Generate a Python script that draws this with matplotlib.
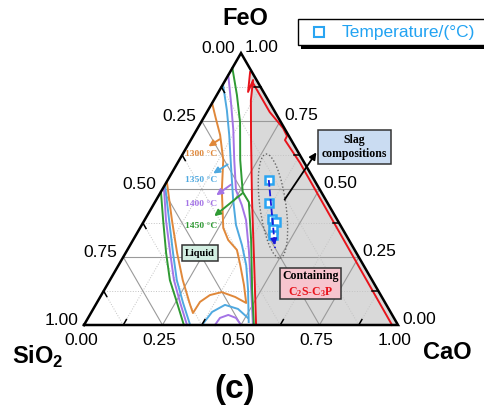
import numpy as np
import matplotlib.pyplot as plt
from matplotlib.patches import Polygon, Ellipse, Rectangle
from matplotlib.lines import Line2D

plt.rcParams['font.family'] = ['Liberation Sans', 'DejaVu Sans']
plt.rcParams['mathtext.fontset'] = 'custom'
plt.rcParams['mathtext.rm'] = 'Liberation Sans'
plt.rcParams['mathtext.bf'] = 'Liberation Sans:bold'
plt.rcParams['mathtext.sf'] = 'Liberation Serif:bold'

# compositions as (CaO, FeO) mole fractions, SiO2 is the rest
# 1300 C isotherm (orange)
iso1300_cao = [0.001, 0.087, 0.164, 0.232, 0.301, 0.325, 0.327, 0.346, 0.378, 0.430, 0.476,
               0.436, 0.387, 0.349, 0.303, 0.265, 0.191, 0.140, 0.084, 0.039, 0.0]
iso1300_feo = [0.526, 0.386, 0.265, 0.165, 0.074, 0.044, 0.085, 0.110, 0.121, 0.103, 0.081,
               0.147, 0.221, 0.276, 0.3125, 0.357, 0.496, 0.607, 0.699, 0.761, 0.816]

# 1350 C isotherm (blue), three pieces
iso1350_left_cao = [0.003, 0.078, 0.151, 0.213, 0.275, 0.338]
iso1350_left_feo = [0.511, 0.386, 0.265, 0.165, 0.081, 0.0]
iso1350_arc_cao = [0.376, 0.384, 0.412, 0.461, 0.509]
iso1350_arc_feo = [0.0, 0.048, 0.074, 0.059, 0.026]
iso1350_right_cao = [0.002, 0.060, 0.113, 0.174, 0.245, 0.300, 0.356, 0.406, 0.458, 0.519]
iso1350_right_feo = [0.882, 0.790, 0.699, 0.588, 0.460, 0.368, 0.294, 0.221, 0.129, 0.011]

# 1400 C isotherm (purple)
iso1400_left_cao = [0.005, 0.068, 0.142, 0.204, 0.266, 0.328]
iso1400_left_feo = [0.500, 0.386, 0.265, 0.165, 0.081, 0.0]
iso1400_arc_cao = [0.417, 0.420, 0.441, 0.471, 0.500]
iso1400_arc_feo = [0.0, 0.026, 0.037, 0.026, 0.0]
iso1400_right_cao = [0.0, 0.054, 0.117, 0.175, 0.236, 0.282, 0.323, 0.387, 0.468, 0.538]
iso1400_right_feo = [0.919, 0.827, 0.717, 0.607, 0.496, 0.441, 0.386, 0.276, 0.129, 0.0]

# 1450 C isotherm (green)
iso1450_left_cao = [0.0, 0.059, 0.129, 0.191, 0.256, 0.318]
iso1450_left_feo = [0.490, 0.386, 0.265, 0.165, 0.081, 0.0]
iso1450_right_cao = [0.0, 0.064, 0.124, 0.194, 0.261, 0.299, 0.376, 0.471, 0.541]
iso1450_right_feo = [0.945, 0.846, 0.746, 0.607, 0.489, 0.452, 0.3125, 0.129, 0.0]

# C2S-C3P boundaries (red)
redA_cao = [0.064, 0.094, 0.088, 0.118, 0.192, 0.305, 0.422, 0.548]
redA_feo = [0.930, 0.857, 0.901, 0.827, 0.680, 0.460, 0.239, 0.0]
redB_cao = [0.093, 0.200, 0.272, 0.299, 0.300, 0.390, 0.981]
redB_feo = [0.890, 0.783, 0.724, 0.695, 0.680, 0.596, 0.0]

# slag compositions
slag_cao = [0.322, 0.365, 0.404, 0.422, 0.426, 0.437]
slag_feo = [0.533, 0.449, 0.390, 0.379, 0.353, 0.331]
trend_end = (0.467, 0.283)

tick_vals = [0.0, 0.25, 0.5, 0.75, 1.0]
minor_vals = [0.125, 0.375, 0.625, 0.875]

S3 = np.sqrt(3) / 2


def tern(cao, feo):
    cao = np.asarray(cao, float)
    feo = np.asarray(feo, float)
    return cao + feo / 2, feo * S3


fig = plt.figure(figsize=(4.84, 4.11), dpi=100)
ax = fig.add_axes([0, 0, 1, 1])
ax.set_xlim(-84 / 314, 400 / 314)
ax.set_ylim((325 - 411) / 314, 325 / 314)
ax.axis('off')

# grey C2S-C3P field
gx, gy = tern(redA_cao[3:] + [1.0, 0.07], redA_feo[3:] + [0.0, 0.93])
gx = np.r_[tern(redA_cao[0], redA_feo[0])[0], gx]
gy = np.r_[tern(redA_cao[0], redA_feo[0])[1], gy]
ax.add_patch(Polygon(np.c_[gx, gy], closed=True, fc='#d9d9d9', ec='none', zorder=0))

# grid
for v in np.arange(0.125, 1.0, 0.125):
    major = abs(v * 4 - round(v * 4)) < 1e-9
    kw = dict(color='#9a9a9a', lw=0.8, ls='-') if major else dict(color='#c4c4c4', lw=0.7, ls=':')
    for c0, f0, c1, f1 in [(0, v, 1 - v, v), (v, 0, v, 1 - v), (1 - v, 0, 0, 1 - v)]:
        x, y = tern([c0, c1], [f0, f1])
        ax.plot(x, y, zorder=1, **kw)

# triangle frame
fx, fy = tern([0, 1, 0, 0], [0, 0, 1, 0])
ax.plot(fx, fy, color='black', lw=1.8, zorder=6, solid_joinstyle='miter')

# minor ticks
L = 0.02
for v in minor_vals:
    for c0, f0, c1, f1 in [(v, 0, v, L), (1 - v, v, 1 - v - L, v), (0, 1 - v, L, 1 - v - L)]:
        x, y = tern([c0, c1], [f0, f1])
        ax.plot(x, y, color='black', lw=1.1, zorder=6)

# tick labels
for v in tick_vals:
    ax.annotate(f'{v:.2f}', tern(v, 0), xytext=(-3, -15), textcoords='offset pixels',
                ha='center', va='center', fontsize=12.5)
    ax.annotate(f'{v:.2f}', tern(0, 1 - v), xytext=(-6, 5), textcoords='offset pixels',
                ha='right', va='center', fontsize=12.5)
    ax.annotate(f'{v:.2f}', tern(1 - v, v), xytext=(4, 6), textcoords='offset pixels',
                ha='left', va='center', fontsize=12.5)

# vertex labels
ax.text(0.513, 0.975, 'FeO', ha='center', va='center', fontsize=17, fontweight='bold')
ax.text(-0.146, -0.102, r'SiO$_\mathbf{2}$', ha='center', va='center', fontsize=17, fontweight='bold')
ax.text(1.156, -0.086, 'CaO', ha='center', va='center', fontsize=17, fontweight='bold')
ax.text(0.481, -0.207, '(c)', ha='center', va='center', fontsize=24, fontweight='bold')

c_or, c_bl, c_pu, c_gr, c_rd = '#e0883a', '#4fa9e0', '#a474e6', '#2f9a33', '#e8141c'
lw = 1.4

x, y = tern(iso1300_cao, iso1300_feo)
ax.plot(x, y, color=c_or, lw=lw, zorder=3)
for cc, ff in [(iso1350_left_cao, iso1350_left_feo), (iso1350_arc_cao, iso1350_arc_feo),
               (iso1350_right_cao, iso1350_right_feo)]:
    x, y = tern(cc, ff)
    ax.plot(x, y, color=c_bl, lw=lw, zorder=3)
for cc, ff in [(iso1400_left_cao, iso1400_left_feo), (iso1400_arc_cao, iso1400_arc_feo),
               (iso1400_right_cao, iso1400_right_feo)]:
    x, y = tern(cc, ff)
    ax.plot(x, y, color=c_pu, lw=lw, zorder=3)
for cc, ff in [(iso1450_left_cao, iso1450_left_feo), (iso1450_right_cao, iso1450_right_feo)]:
    x, y = tern(cc, ff)
    ax.plot(x, y, color=c_gr, lw=lw, zorder=3)
for cc, ff in [(redA_cao, redA_feo), (redB_cao, redB_feo)]:
    x, y = tern(cc, ff)
    ax.plot(x, y, color=c_rd, lw=lw, zorder=4)

# isotherm labels with arrows
serif = ['Liberation Serif', 'DejaVu Serif']
iso_labels = [('1300 °C', c_or, (0.439, 0.596), (0.389, 0.564), 0.545),
              ('1350 °C', c_bl, (0.465, 0.516), (0.404, 0.478), 0.462),
              ('1400 °C', c_pu, (0.475, 0.452), (0.414, 0.408), 0.385),
              ('1450 °C', c_gr, (0.510, 0.424), (0.408, 0.341), 0.315)]
for txt, col, tail, head, ty in iso_labels:
    ax.annotate('', xy=head, xytext=tail,
                arrowprops=dict(arrowstyle='-|>', color=col, lw=1.4, mutation_scale=9), zorder=5)
    ax.text(0.374, ty, txt, color=col, fontsize=6.8, fontweight='bold', family=serif,
            ha='center', va='center', zorder=7)

# Liquid label
ax.text(0.369, 0.229, 'Liquid', fontsize=7.5, fontweight='bold', family=serif, ha='center', va='center',
        bbox=dict(boxstyle='square,pad=0.3', fc='#d3efe2', ec='#333333', lw=1.1), zorder=7)

# slag composition box and arrow
ax.text(0.861, 0.567, 'Slag\ncompositions', fontsize=8.5, fontweight='bold', family=serif,
        ha='center', va='center', linespacing=1.25,
        bbox=dict(boxstyle='square,pad=0.35', fc='#cadcf2', ec='#333333', lw=1.1), zorder=7)
ax.annotate('', xy=(0.745, 0.557), xytext=(0.634, 0.392),
            arrowprops=dict(arrowstyle='-|>', color='black', lw=1.3, mutation_scale=10), zorder=7)

# containing box
ax.add_patch(Rectangle((0.624, 0.083), 0.194, 0.099, fc='#f7c5ce', ec='#333333', lw=1.1, zorder=7))
ax.text(0.721, 0.156, 'Containing', fontsize=8.5, fontweight='bold', family=serif,
        ha='center', va='center', zorder=8)
ax.text(0.721, 0.106, r'$\mathsf{C_2S}$-$\mathsf{C_3P}$', fontsize=8.5, fontweight='bold', family=serif,
        color=c_rd, ha='center', va='center', zorder=8)

# dotted ellipse around the slag data
ex, ey = tern(0.383, 0.4375)
ax.add_patch(Ellipse((ex, ey), width=0.083, height=0.334, angle=7.7, fill=False,
                     ls=(0, (1, 1.5)), ec='#666666', lw=1.0, zorder=4))

# slag points and trend
sx, sy = tern(slag_cao, slag_feo)
ax.plot(sx, sy, 's', ms=6, mfc='white', mec='#2aa5f2', mew=1.8, zorder=8,
        label='Temperature/(°C)')
tx, ty = tern(*trend_end)
ax.plot([sx[0], tx], [sy[0], ty], ls='--', color='#1a1ad8', lw=1.3, zorder=9)
ax.annotate('', xy=(tx, ty), xytext=(tx - 0.004, ty + 0.03),
            arrowprops=dict(arrowstyle='-|>', color='#1a1ad8', lw=1.3, mutation_scale=9), zorder=9)

# legend box drawn by hand (runs off the right edge like the original)
W, H = 484, 411
fig.patches.append(Rectangle((301 / W, 1 - 49 / H), 200 / W, 26 / H, transform=fig.transFigure,
                             fc='black', ec='none', zorder=1))
fig.patches.append(Rectangle((298 / W, 1 - 45 / H), 200 / W, 26 / H, transform=fig.transFigure,
                             fc='white', ec='black', lw=1.0, zorder=2))
fig.lines.append(Line2D([319 / W], [1 - 32 / H], transform=fig.transFigure, marker='s', ms=6.5,
                        mfc='white', mec='#2aa5f2', mew=1.5, zorder=3))
fig.text(342 / W, 1 - 32 / H, 'Temperature/(°C)', color='#22a3f2', fontsize=12.5,
         ha='left', va='center', zorder=4)

fig.savefig('out.png', dpi=100)
